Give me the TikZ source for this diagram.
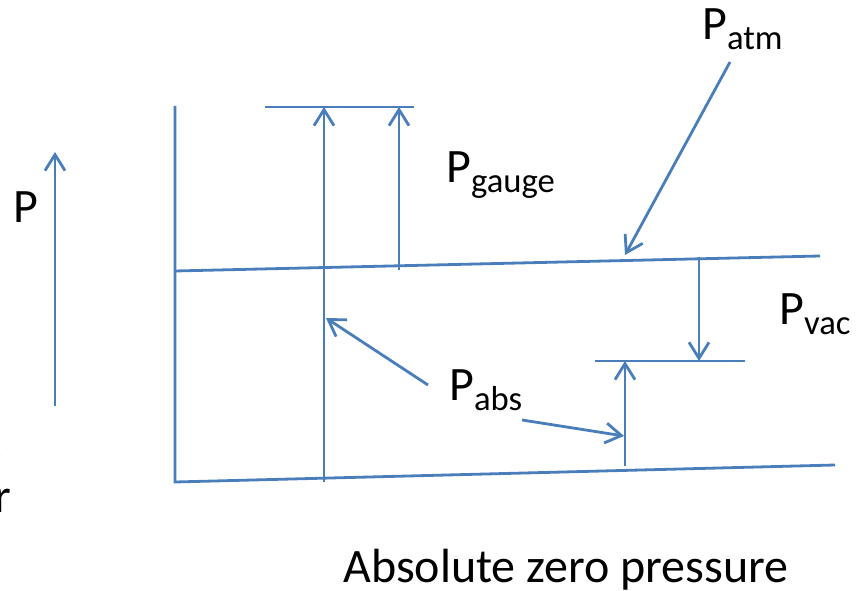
\documentclass[tikz,border=0pt]{standalone}
\usepackage{fontspec}
\setmainfont{Carlito}
\usetikzlibrary{arrows.meta}
\definecolor{lineblue}{HTML}{4A7EBB}
% pressure symbol with a lowered subscript
\newcommand{\psub}[1]{\fontsize{36}{40}\selectfont P\raisebox{-7.5pt}{\fontsize{26}{30}\selectfont #1}}
\begin{document}
\begin{tikzpicture}[x=0.75pt,y=-0.75pt,
  level/.style={draw=lineblue, line width=2.1pt},
  arr/.style={level, -{Straight Barb[length=12pt,width=15pt]}},
  lbl/.style={inner sep=0pt, anchor=base west, text=black},
  big/.style={lbl, font=\fontsize{36}{40}\selectfont}]
\useasboundingbox (0,0) rectangle (863,591);

% reference levels
\coordinate (axTop) at (175,106);
\coordinate (zeroL) at (175,482);
\coordinate (zeroR) at (835,465);
\coordinate (atmL) at (175,271);
\coordinate (atmR) at (820,256);
\coordinate (gaugeL) at (265,107);
\coordinate (gaugeR) at (414,107);
\coordinate (vacL) at (595,361);
\coordinate (vacR) at (745,361);

\draw[level] (axTop) -- (zeroL) -- (zeroR);
\draw[level] (atmL) -- (atmR);
\draw[level] (gaugeL) -- (gaugeR);
\draw[level] (vacL) -- (vacR);

% pressure arrows
\coordinate (absB) at (324,482);
\coordinate (absT) at (324,107);
\coordinate (gB) at (399,270);
\coordinate (gT) at (399,107);
\coordinate (vT) at (699,257);
\coordinate (vB) at (699,361);
\coordinate (aB) at (625,466);
\coordinate (aT) at (625,361);
\draw[arr] (absB) -- (absT);
\draw[arr] (gB) -- (gT);
\draw[arr] (vT) -- (vB);
\draw[arr] (aB) -- (aT);

% direction of increasing pressure
\coordinate (pB) at (55,406);
\coordinate (pT) at (55,152);
\draw[arr] (pB) -- (pT);
\node[big] (pLab) at (13,223) {P};

% labels
\node[lbl] (gaugeLab) at (446,183) {\psub{gauge}};
\node[lbl] (atmLab) at (702,40) {\psub{atm}};
\node[lbl] (vacLab) at (779,325) {\psub{vac}};
\node[lbl] (absLab) at (449,400) {\psub{abs}};
\node[big] (zeroLab) at (343,582) {Absolute zero pressure};
\node[big] (cutT) at (-15,457) {t};
\node[big] (cutR) at (-6,512) {r};

% pointers
\coordinate (atmTail) at (730,62);
\coordinate (atmTip) at (625,255);
\draw[arr] (atmTail) -- (atmTip);
\coordinate (abs1Tail) at (428,385);
\coordinate (abs1Tip) at (326,318);
\draw[arr] (abs1Tail) -- (abs1Tip);
\coordinate (abs2Tail) at (522,420);
\coordinate (abs2Tip) at (624,436);
\draw[arr] (abs2Tail) -- (abs2Tip);
\end{tikzpicture}
\end{document}
